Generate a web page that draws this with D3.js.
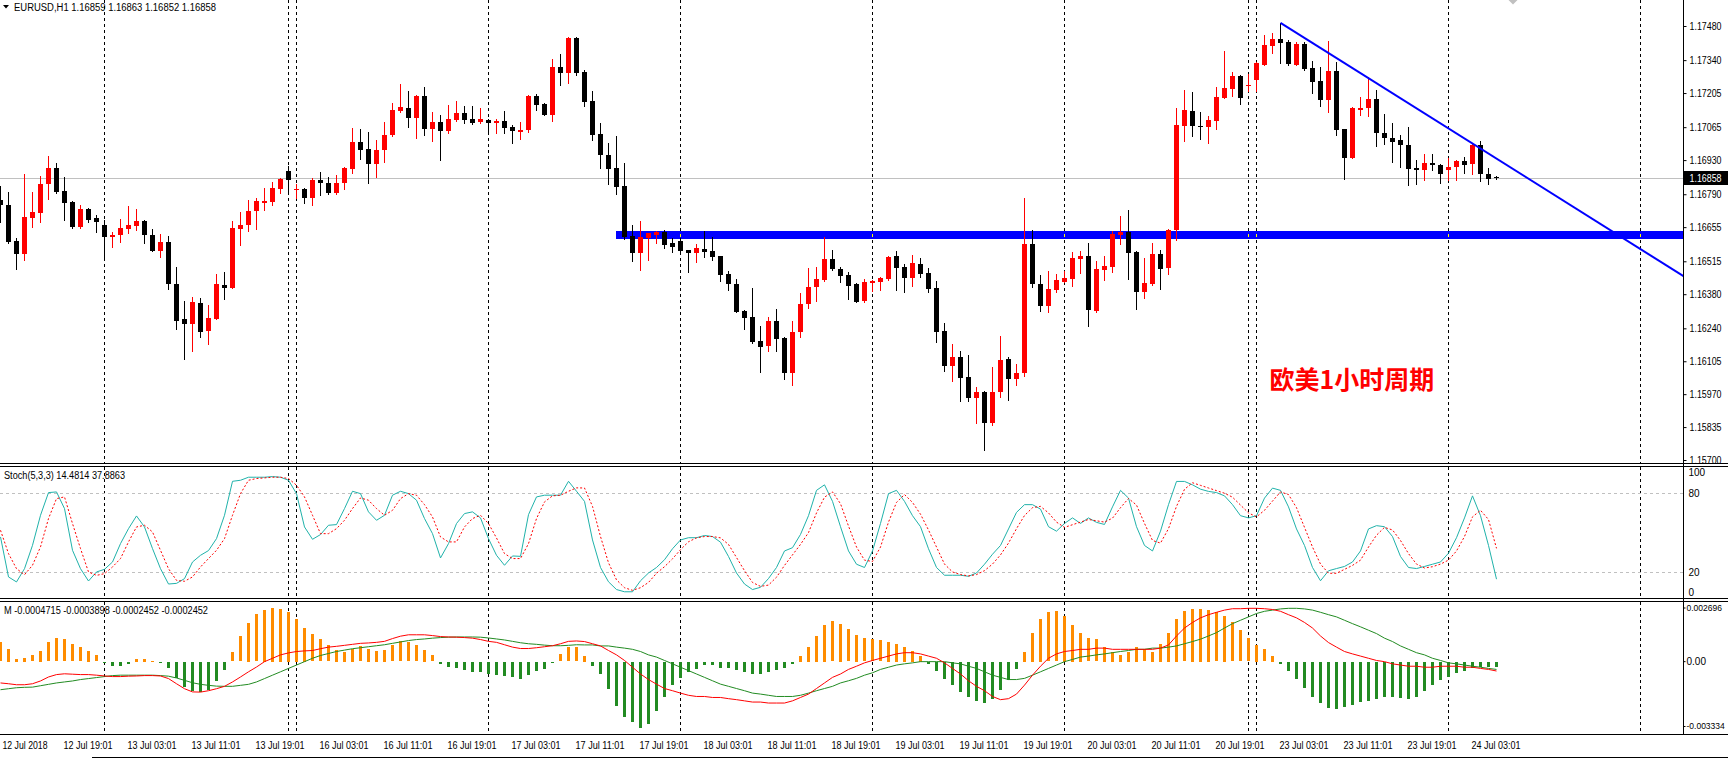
<!DOCTYPE html>
<html>
<head>
<meta charset="utf-8">
<script src="https://cdn.jsdelivr.net/npm/d3@7"></script>
<style>
  body { margin: 0; background: #fff; overflow: hidden; }
  svg { display: block; }
</style>
</head>
<body>
<script>
// EURUSD H1, 12 Jul 11:00 .. 24 Jul 06:00, one entry per bar
const opens = [1.16767,1.16746,1.16600,1.16545,1.16694,1.16715,1.16830,1.16898,1.16804,1.16759,1.16656,1.16730,1.16692,1.16664,1.16616,1.16621,1.16648,1.16660,1.16682,1.16623,1.16559,1.16595,1.16422,1.16277,1.16256,1.16344,1.16230,1.16280,1.16418,1.16407,1.16648,1.16664,1.16723,1.16756,1.16760,1.16813,1.16886,1.16809,1.16812,1.16776,1.16849,1.16837,1.16797,1.16838,1.16895,1.17005,1.16976,1.16912,1.16973,1.17031,1.17133,1.17144,1.17104,1.17193,1.17059,1.17087,1.17051,1.17095,1.17124,1.17099,1.17088,1.17095,1.17084,1.17091,1.17066,1.17047,1.17054,1.17193,1.17160,1.17117,1.17312,1.17289,1.17431,1.17292,1.17173,1.17037,1.16951,1.16898,1.16824,1.16619,1.16547,1.16612,1.16623,1.16637,1.16590,1.16599,1.16562,1.16547,1.16566,1.16558,1.16537,1.16463,1.16422,1.16312,1.16287,1.16189,1.16169,1.16271,1.16201,1.16055,1.16223,1.16338,1.16411,1.16440,1.16525,1.16484,1.16459,1.16422,1.16354,1.16424,1.16432,1.16444,1.16537,1.16492,1.16448,1.16504,1.16467,1.16406,1.16230,1.16087,1.16123,1.16041,1.15956,1.15979,1.15850,1.15977,1.16115,1.16034,1.16055,1.16586,1.16422,1.16333,1.16399,1.16432,1.16444,1.16526,1.16537,1.16313,1.16481,1.16492,1.16621,1.16636,1.16554,1.16391,1.16422,1.16545,1.16489,1.16644,1.17070,1.17132,1.17070,1.17066,1.17092,1.17186,1.17223,1.17275,1.17232,1.17260,1.17322,1.17400,1.17427,1.17415,1.17322,1.17408,1.17308,1.17255,1.17178,1.17296,1.17058,1.16940,1.17137,1.17145,1.17181,1.17042,1.17022,1.17013,1.16992,1.16897,1.16891,1.16919,1.16910,1.16891,1.16901,1.16927,1.16912,1.16992,1.16875,1.16859];
const highs = [1.16824,1.16800,1.16611,1.16871,1.16800,1.16865,1.16947,1.16919,1.16861,1.16762,1.16746,1.16733,1.16705,1.16685,1.16636,1.16689,1.16742,1.16730,1.16685,1.16648,1.16627,1.16619,1.16492,1.16353,1.16369,1.16365,1.16336,1.16463,1.16472,1.16681,1.16718,1.16767,1.16775,1.16816,1.16841,1.16857,1.16906,1.16832,1.16814,1.16857,1.16882,1.16861,1.16869,1.16900,1.17062,1.17058,1.17046,1.17013,1.17087,1.17165,1.17243,1.17214,1.17195,1.17230,1.17128,1.17115,1.17156,1.17173,1.17152,1.17152,1.17144,1.17099,1.17099,1.17132,1.17074,1.17087,1.17197,1.17202,1.17165,1.17345,1.17366,1.17433,1.17435,1.17300,1.17214,1.17083,1.17001,1.17029,1.16919,1.16664,1.16681,1.16633,1.16640,1.16644,1.16611,1.16611,1.16562,1.16586,1.16640,1.16615,1.16537,1.16476,1.16443,1.16315,1.16406,1.16250,1.16287,1.16320,1.16204,1.16271,1.16385,1.16488,1.16492,1.16615,1.16562,1.16493,1.16472,1.16425,1.16443,1.16438,1.16452,1.16535,1.16558,1.16504,1.16541,1.16529,1.16488,1.16435,1.16262,1.16176,1.16148,1.16131,1.16000,1.15984,1.16082,1.16209,1.16123,1.16094,1.16775,1.16644,1.16459,1.16476,1.16463,1.16476,1.16554,1.16558,1.16590,1.16517,1.16537,1.16640,1.16701,1.16726,1.16558,1.16530,1.16590,1.16562,1.16647,1.17143,1.17218,1.17210,1.17128,1.17111,1.17230,1.17378,1.17292,1.17278,1.17284,1.17331,1.17443,1.17452,1.17493,1.17423,1.17415,1.17415,1.17337,1.17312,1.17419,1.17333,1.17058,1.17148,1.17189,1.17271,1.17218,1.17119,1.17083,1.17033,1.17066,1.16931,1.16955,1.16955,1.16914,1.16940,1.16932,1.16943,1.16998,1.17010,1.16897,1.16863];
const lows = [1.16678,1.16592,1.16485,1.16522,1.16656,1.16678,1.16772,1.16796,1.16685,1.16653,1.16653,1.16678,1.16637,1.16526,1.16574,1.16595,1.16629,1.16644,1.16592,1.16557,1.16534,1.16403,1.16239,1.16116,1.16149,1.16204,1.16174,1.16277,1.16362,1.16404,1.16580,1.16641,1.16649,1.16726,1.16744,1.16797,1.16797,1.16775,1.16756,1.16744,1.16785,1.16789,1.16789,1.16813,1.16878,1.16935,1.16838,1.16862,1.16923,1.17028,1.17129,1.17066,1.17022,1.17031,1.17010,1.16932,1.17043,1.17091,1.17083,1.17080,1.17083,1.17044,1.17043,1.17043,1.17002,1.17018,1.17047,1.17136,1.17115,1.17092,1.17240,1.17248,1.17277,1.17152,1.17014,1.16899,1.16830,1.16793,1.16608,1.16518,1.16481,1.16522,1.16588,1.16571,1.16555,1.16555,1.16473,1.16514,1.16534,1.16522,1.16436,1.16399,1.16305,1.16239,1.16178,1.16059,1.16145,1.16145,1.16034,1.16009,1.16206,1.16325,1.16354,1.16436,1.16481,1.16432,1.16362,1.16346,1.16350,1.16395,1.16399,1.16440,1.16399,1.16387,1.16415,1.16452,1.16387,1.16186,1.16067,1.16026,1.15940,1.15940,1.15850,1.15739,1.15845,1.15960,1.15948,1.16009,1.16046,1.16411,1.16313,1.16309,1.16387,1.16428,1.16415,1.16469,1.16251,1.16309,1.16440,1.16473,1.16584,1.16444,1.16321,1.16366,1.16418,1.16403,1.16461,1.16603,1.17010,1.17027,1.17018,1.17002,1.17059,1.17183,1.17191,1.17162,1.17214,1.17215,1.17319,1.17371,1.17330,1.17318,1.17319,1.17301,1.17207,1.17150,1.17129,1.17031,1.16854,1.16938,1.17117,1.17109,1.16986,1.16998,1.16924,1.16903,1.16827,1.16834,1.16850,1.16891,1.16835,1.16850,1.16850,1.16879,1.16871,1.16846,1.16830,1.16852];
const closes = [1.16744,1.16595,1.16545,1.16697,1.16718,1.16832,1.16898,1.16798,1.16756,1.16656,1.16730,1.16685,1.16678,1.16616,1.16623,1.16652,1.16664,1.16681,1.16621,1.16559,1.16595,1.16422,1.16272,1.16256,1.16349,1.16227,1.16283,1.16422,1.16407,1.16652,1.16664,1.16722,1.16763,1.16763,1.16816,1.16853,1.16850,1.16812,1.16776,1.16849,1.16838,1.16797,1.16837,1.16898,1.17005,1.16973,1.16912,1.16972,1.17033,1.17136,1.17148,1.17104,1.17193,1.17059,1.17087,1.17050,1.17099,1.17124,1.17096,1.17084,1.17099,1.17084,1.17091,1.17063,1.17051,1.17054,1.17193,1.17158,1.17117,1.17312,1.17289,1.17431,1.17289,1.17170,1.17035,1.16949,1.16895,1.16821,1.16616,1.16547,1.16615,1.16631,1.16637,1.16580,1.16575,1.16559,1.16551,1.16570,1.16555,1.16534,1.16459,1.16420,1.16309,1.16284,1.16186,1.16165,1.16271,1.16198,1.16055,1.16225,1.16340,1.16410,1.16443,1.16525,1.16485,1.16456,1.16415,1.16350,1.16431,1.16435,1.16448,1.16533,1.16487,1.16448,1.16508,1.16461,1.16403,1.16227,1.16087,1.16123,1.16038,1.15956,1.15979,1.15850,1.15979,1.16111,1.16034,1.16057,1.16586,1.16420,1.16333,1.16402,1.16439,1.16447,1.16529,1.16537,1.16317,1.16484,1.16496,1.16627,1.16636,1.16547,1.16391,1.16426,1.16545,1.16485,1.16644,1.17074,1.17136,1.17068,1.17066,1.17095,1.17189,1.17226,1.17275,1.17186,1.17238,1.17329,1.17402,1.17427,1.17412,1.17326,1.17408,1.17305,1.17252,1.17178,1.17296,1.17055,1.16940,1.17145,1.17144,1.17181,1.17043,1.17022,1.17006,1.16990,1.16895,1.16891,1.16919,1.16908,1.16875,1.16902,1.16928,1.16908,1.16992,1.16871,1.16854,1.16858];

// Stochastic (5,3,3)
const stochMain = [46.7,16.2,12.4,22.5,40.3,63.2,80.5,81,68.3,36.5,22.5,13.1,20,22,27.6,41.6,53,62.7,54.3,37.8,22.5,10.8,11.3,14.9,27.6,32.7,36.3,45.4,63.2,89.1,89.9,92.2,92.2,92.2,92.7,92.2,89.9,79.7,54.3,44.9,48.5,55.6,56.1,68.3,81.5,79.7,65.8,59.4,63.2,78.5,81.5,79.7,74.7,60.7,49.2,30.7,41.6,56.9,64.5,65.8,61.2,45.4,32.7,25.1,32.2,31.9,63.7,77.2,78.5,78.5,78.5,89.1,81.5,73.8,44.4,23.4,12.5,6.6,4.9,4.9,13.3,19.2,23.4,29.3,37.7,44.4,46.1,46.1,47.8,47,42.7,31.8,19.2,10.8,6.6,8.3,15,23.4,36,38.5,48.6,62.9,82.2,86.4,73.8,54.5,36,25.9,23.4,36,57,79.7,82.2,73.8,62.9,54.5,37.7,23.4,17.5,17.5,17.5,16.7,19.2,25.9,33.5,40.2,52.8,65.4,71.3,71.3,67.9,54.5,51.1,57,61.2,57,61.2,57.8,56.2,69.6,82.2,76.3,54.5,40.2,36,51.1,71.3,89,89,86.4,83.1,81.4,80.5,78,71.3,62.9,61.2,62.9,76.3,83.9,82.2,69.6,52.8,40.2,23.4,13.3,20.9,22.6,24.2,27.6,36,52.8,55.3,54.5,47,31.8,23.4,22.6,24.2,25.9,27.6,34.3,46.1,61.2,78,62.9,40.2,14.5];
const stochSignal = [51.8,34,22.5,17.9,25.1,39.1,60.7,75.9,77.2,56.9,37.8,20,17.4,18.7,23.8,30.2,42.9,54.3,55.6,50.5,36.5,22.5,13.6,12.9,16.2,23.8,30.2,36.5,45.4,63.2,79.7,89.9,91.2,91.7,92.2,92.2,91.2,86.1,77.2,63.2,49.2,49.2,53,59.4,68.3,76.4,74.7,68.3,63.2,67,75.9,79.7,78.5,71.3,61.9,46.7,42.9,42.9,54.3,60.7,63.2,56.9,45.9,34,30.2,30.2,41.6,60.7,73.4,78,78.5,81.5,84.1,84,70,47,27,14,8,6,8,12,19,24,30,37,43,46,47,47,46,41,31,21,12,9,10,16,25,33,41,50,65,77,81,72,55,39,29,28,39,58,73,79,73,64,52,39,26,20,18,17,18,21,26,33,42,53,63,69,70,65,58,54,56,58,60,59,58,61,69,76,71,57,44,42,53,70,83,88,86,84,82,80,77,71,65,62,67,74,81,79,69,54,39,26,19,19,22,25,29,39,48,54,52,44,34,26,23,24,26,29,36,47,62,67,60,38];
const stochLevels = [80, 20];

// MACD panel, in units of 0.00001
const macdHist = [97,66,15,20,31,56,97,118,112,87,72,56,31,-2,-20,-20,-10,15,15,5,-5,-31,-82,-128,-148,-153,-143,-97,-41,46,128,194,237,261,269,266,250,215,169,138,112,82,61,51,66,77,66,56,61,82,102,97,82,61,31,-10,-26,-31,-41,-51,-51,-61,-66,-72,-77,-87,-66,-46,-36,-5,36,72,72,30,-20,-62,-135,-220,-276,-304,-333,-310,-248,-175,-118,-79,-51,-34,-17,-17,-28,-28,-39,-51,-62,-62,-51,-39,-28,-11,28,73,129,186,203,191,163,135,118,113,107,101,90,73,56,28,-11,-45,-84,-118,-152,-175,-197,-208,-186,-141,-90,-34,51,146,214,248,253,231,186,146,118,113,73,51,34,51,73,62,51,90,146,214,253,265,265,259,248,231,197,158,118,84,62,28,-11,-45,-84,-129,-175,-208,-231,-236,-225,-214,-203,-197,-186,-175,-175,-180,-186,-175,-146,-118,-90,-73,-56,-45,-28,-23,-25,-25];
const macdRed = [-107,-111,-116,-116,-111,-97,-77,-65,-61,-63,-65,-65,-68,-72,-75,-75,-73,-72,-70,-70,-72,-85,-111,-136,-152,-153,-146,-136,-124,-102,-77,-51,-27,0,17,34,44,51,54,56,65,73,77,82,87,92,94,97,102,116,128,135,135,135,131,126,124,123,121,118,111,102,97,85,73,66,66,70,75,80,90,102,104,101,90,79,56,34,6,-28,-62,-90,-113,-135,-146,-158,-169,-175,-175,-180,-180,-186,-191,-197,-203,-203,-208,-208,-208,-197,-180,-163,-135,-107,-79,-62,-39,-23,-6,6,17,28,39,45,45,39,28,17,-6,-34,-62,-96,-124,-146,-175,-191,-186,-163,-118,-68,-23,17,39,51,56,62,62,68,68,62,62,62,62,62,62,68,84,129,169,197,220,236,248,259,266,266,268,268,266,262,253,236,220,197,169,129,96,73,51,39,28,17,6,0,-11,-17,-23,-23,-28,-28,-23,-23,-23,-28,-28,-34,-39,-47];
const macdGreen = [-141,-136,-131,-129,-128,-121,-114,-107,-102,-97,-90,-85,-80,-75,-70,-68,-68,-68,-68,-68,-70,-73,-82,-94,-106,-114,-119,-123,-124,-124,-119,-114,-102,-85,-68,-51,-34,-17,0,17,31,41,51,58,65,70,75,80,85,92,99,106,111,114,118,121,123,124,124,124,123,119,114,109,102,95,90,87,83,80,80,82,85,84,84,79,79,73,68,62,51,34,23,6,-11,-28,-45,-62,-79,-96,-113,-124,-135,-146,-158,-163,-169,-175,-175,-175,-169,-158,-146,-135,-124,-107,-96,-84,-68,-56,-39,-28,-17,-11,-6,0,0,0,0,-6,-11,-23,-34,-51,-68,-79,-90,-90,-84,-68,-51,-34,-17,0,11,23,28,34,39,45,51,56,62,62,68,68,73,79,90,101,113,129,146,169,191,208,225,242,253,259,265,268,268,265,259,248,236,225,208,191,175,158,141,118,101,79,62,45,34,17,6,-6,-11,-17,-23,-28,-34,-39];
const macdUnit = 0.00001;

// axes
const priceTicks = [1.17480,1.17340,1.17205,1.17065,1.16930,1.16790,1.16655,1.16515,1.16380,1.16240,1.16105,1.15970,1.15835,1.15700];
const stochTicks = [100, 80, 20, 0];
const macdTicks = [0.002696, 0, -0.003334];
const macdTickText = ["0.002696", "0.00", "-0.003334"];
const timeBars = [0,8,16,24,32,40,48,56,64,72,80,88,96,104,112,120,128,136,144,152,160,168,176,184];
const timeTexts = ["12 Jul 2018","12 Jul 19:01","13 Jul 03:01","13 Jul 11:01","13 Jul 19:01","16 Jul 03:01","16 Jul 11:01","16 Jul 19:01","17 Jul 03:01","17 Jul 11:01","17 Jul 19:01","18 Jul 03:01","18 Jul 11:01","18 Jul 19:01","19 Jul 03:01","19 Jul 11:01","19 Jul 19:01","20 Jul 03:01","20 Jul 11:01","20 Jul 19:01","23 Jul 03:01","23 Jul 11:01","23 Jul 19:01","24 Jul 03:01"];
const separatorBars = [13,36,37,61,85,109,133,156,157,181,205];

// drawn objects
const supportPrice = 1.16623, supportFromBar = 77;
const trendBars = [160, 184], trendPrices = [1.17493, 1.16998];
const note = "欧美1小时周期";

const W = 1728, H = 759;
const axisX = 1683.5;
const panels = { main: [0, 463], stoch: [467, 598], macd: [602, 734] };
const font = "'Liberation Sans', Arial, sans-serif";

const svg = d3.select("body").append("svg")
    .attr("width", W).attr("height", H)
    .style("font-family", font);

const n = opens.length;
const x = d3.scaleLinear().domain([0, n - 1]).range([0.5, 0.5 + 8 * (n - 1)]);
const yP = d3.scaleLinear().domain([1.15700, 1.17480]).range([460, 26]);
const yS = d3.scaleLinear().domain([0, 100]).range([598.2, 467]);
const yM = d3.scaleLinear().domain([-0.003334, 0.002696]).range([728, 608]);

const defs = svg.append("defs");
Object.entries(panels).forEach(([k, [a, b]]) => {
  defs.append("clipPath").attr("id", "clip-" + k)
    .append("rect").attr("x", 0).attr("y", a).attr("width", axisX).attr("height", b - a);
});
const bandTop = Math.round(yP(supportPrice)) - 4;
const bandX = x(supportFromBar) - 0.5;
defs.append("clipPath").attr("id", "clip-band")
  .append("rect").attr("x", bandX).attr("y", bandTop).attr("width", axisX - bandX).attr("height", 8);

const gMain = svg.append("g").attr("clip-path", "url(#clip-main)");
const gSt = svg.append("g").attr("clip-path", "url(#clip-stoch)");
const gMd = svg.append("g").attr("clip-path", "url(#clip-macd)");

// support band
gMain.append("line")
    .attr("x1", bandX).attr("x2", axisX)
    .attr("y1", bandTop + 4).attr("y2", bandTop + 4)
    .attr("stroke", "#0000ff").attr("stroke-width", 8);

// period separators
function separators(g, [a, b], color) {
  g.selectAll(null).data(separatorBars).enter().append("line")
      .attr("x1", d => x(d)).attr("x2", d => x(d))
      .attr("y1", a).attr("y2", b)
      .attr("stroke", color).attr("stroke-dasharray", "3,3");
}
separators(gMain, panels.main, "#000");
separators(gMain.append("g").attr("clip-path", "url(#clip-band)"), panels.main, "#ffff00");
separators(gSt, panels.stoch, "#000");
separators(gMd, panels.macd, "#000");

// bid line
const bidY = Math.round(yP(closes[n - 1])) + 0.5;
gMain.append("line").attr("x1", 0).attr("x2", axisX).attr("y1", bidY).attr("y2", bidY)
    .attr("stroke", "#c0c0c0");

// candles
const candles = gMain.append("g").selectAll("g").data(d3.range(n)).enter().append("g");
const col = i => closes[i] > opens[i] ? "#ff0000" : "#000000";
candles.append("line")
    .attr("x1", i => x(i)).attr("x2", i => x(i))
    .attr("y1", i => Math.round(yP(highs[i]))).attr("y2", i => Math.round(yP(lows[i])) + 1)
    .attr("stroke", col);
candles.append("rect")
    .attr("x", i => x(i) - 2.5).attr("width", 5)
    .attr("y", i => Math.round(yP(Math.max(opens[i], closes[i]))))
    .attr("height", i => Math.max(1, Math.round(yP(Math.min(opens[i], closes[i]))) - Math.round(yP(Math.max(opens[i], closes[i])))))
    .attr("fill", col).attr("shape-rendering", "crispEdges");

// trend line (ray to the right)
const slope = (trendPrices[1] - trendPrices[0]) / (trendBars[1] - trendBars[0]);
const endBar = x.invert(axisX);
gMain.append("line")
    .attr("x1", x(trendBars[0])).attr("y1", yP(trendPrices[0]))
    .attr("x2", x(endBar)).attr("y2", yP(trendPrices[0] + slope * (endBar - trendBars[0])))
    .attr("stroke", "#0000ff").attr("stroke-width", 2);

// note text
svg.append("text")
    .attr("x", x(158) + 5).attr("y", yP(1.15985) - 2)
    .attr("font-family", "'Noto Sans CJK SC', sans-serif").attr("font-weight", "bold")
    .attr("font-size", 25).attr("fill", "#ff0000")
    .text(note);

// stochastic
gSt.selectAll(null).data(stochLevels).enter().append("line")
    .attr("x1", 0).attr("x2", axisX)
    .attr("y1", d => Math.round(yS(d)) + 0.5).attr("y2", d => Math.round(yS(d)) + 0.5)
    .attr("stroke", "#c0c0c0").attr("stroke-dasharray", "3,3");
gSt.append("path").datum(stochMain)
    .attr("d", d3.line().x((d, i) => x(i)).y(d => yS(d)))
    .attr("fill", "none").attr("stroke", "#20b2aa");
gSt.append("path").datum(stochSignal)
    .attr("d", d3.line().x((d, i) => x(i)).y(d => yS(d)))
    .attr("fill", "none").attr("stroke", "#ff0000").attr("stroke-dasharray", "2,2");

// MACD
gMd.selectAll(null).data(macdHist).enter().append("rect")
    .attr("x", (d, i) => x(i) - 1.5).attr("width", 3)
    .attr("y", d => Math.round(Math.min(yM(d * macdUnit), yM(0))))
    .attr("height", d => Math.max(1, Math.round(Math.abs(yM(d * macdUnit) - yM(0)))))
    .attr("fill", d => d >= 0 ? "#ff8c00" : "#228b22")
    .attr("shape-rendering", "crispEdges");
gMd.append("path").datum(macdGreen)
    .attr("d", d3.line().x((d, i) => x(i)).y(d => yM(d * macdUnit)))
    .attr("fill", "none").attr("stroke", "#228b22");
gMd.append("path").datum(macdRed)
    .attr("d", d3.line().x((d, i) => x(i)).y(d => yM(d * macdUnit)))
    .attr("fill", "none").attr("stroke", "#ff0000");

// frame lines
const hLines = [463.5, 466.5, 598.5, 601.5, 734.5];
svg.selectAll(null).data(hLines).enter().append("line")
    .attr("x1", 0).attr("x2", W).attr("y1", d => d).attr("y2", d => d)
    .attr("stroke", "#000");
svg.append("line").attr("x1", 92).attr("x2", W).attr("y1", 757.5).attr("y2", 757.5).attr("stroke", "#000");
svg.append("line").attr("x1", axisX).attr("x2", axisX).attr("y1", 0).attr("y2", 734.5).attr("stroke", "#000");

// price axis
const pAxis = svg.append("g").attr("transform", `translate(${axisX},0)`)
    .call(d3.axisRight(yP).tickValues(priceTicks).tickFormat(d3.format(".5f")).tickSize(3).tickPadding(3).tickSizeOuter(0));
pAxis.select(".domain").remove();
pAxis.selectAll("text").attr("font-family", font).attr("font-size", 10).attr("fill", "#000")
    .attr("textLength", 32).attr("lengthAdjust", "spacingAndGlyphs");

// bid label
svg.append("rect").attr("x", axisX + 0.5).attr("y", bidY - 7.5).attr("width", 44).attr("height", 14).attr("fill", "#000");
svg.append("text").attr("x", axisX + 6).attr("y", bidY + 3.5).attr("font-size", 10).attr("fill", "#fff")
    .attr("textLength", 32).attr("lengthAdjust", "spacingAndGlyphs")
    .text(d3.format(".5f")(closes[n - 1]));

// stoch axis
const sAxis = svg.append("g").attr("transform", `translate(${axisX},0)`)
    .call(d3.axisRight(yS).tickValues(stochTicks).tickSize(0).tickPadding(5));
sAxis.select(".domain").remove();
sAxis.selectAll(".tick").attr("transform", d => `translate(0,${yS(d) + (d === 100 ? 5.7 : d === 0 ? -5.5 : 0.4)})`);
sAxis.selectAll("text").attr("font-family", font).attr("font-size", 10).attr("fill", "#000");

// macd axis
const mAxis = svg.append("g").attr("transform", `translate(${axisX},0)`)
    .call(d3.axisRight(yM).tickValues(macdTicks).tickFormat((d, i) => macdTickText[i]).tickSize(2).tickPadding(1));
mAxis.select(".domain").remove();
mAxis.selectAll(".tick").attr("transform", (d, i) => `translate(0,${yM(d) + (i === 2 ? -1.5 : 0)})`);
mAxis.selectAll("text").attr("font-family", font).attr("fill", "#000")
    .attr("font-size", (d, i) => i === 1 ? 10 : 8.5);

// time axis
const tAxis = svg.append("g").attr("transform", "translate(0,736)")
    .call(d3.axisBottom(x).tickValues(timeBars).tickFormat((d, i) => timeTexts[i]).tickSize(0).tickPadding(6));
tAxis.select(".domain").remove();
tAxis.selectAll("text").attr("font-family", font).attr("font-size", 10).attr("fill", "#000")
    .attr("text-anchor", "start").attr("x", (d, i) => i === 0 ? 1.5 : -1.5)
    .attr("textLength", (d, i) => i === 0 ? 45 : 49).attr("lengthAdjust", "spacingAndGlyphs");

// headers
svg.append("path").attr("d", "M3,5 L9,5 L6,8.5 Z").attr("fill", "#000");
svg.append("text").attr("x", 14).attr("y", 10.5).attr("font-size", 10)
    .attr("textLength", 202).attr("lengthAdjust", "spacingAndGlyphs")
    .text("EURUSD,H1  1.16859 1.16863 1.16852 1.16858");
svg.append("text").attr("x", 4).attr("y", 478.5).attr("font-size", 10)
    .attr("textLength", 121).attr("lengthAdjust", "spacingAndGlyphs")
    .text("Stoch(5,3,3) 14.4814 37.8863");
svg.append("text").attr("x", 4).attr("y", 614).attr("font-size", 10)
    .attr("textLength", 204).attr("lengthAdjust", "spacingAndGlyphs")
    .text("M -0.0004715 -0.0003898 -0.0002452 -0.0002452");

// chart shift marker
svg.append("path").attr("d", `M${x(n - 1) + 12},0 L${x(n - 1) + 21},0 L${x(n - 1) + 16.5},4.5 Z`).attr("fill", "#c0c0c0");
</script>
</body>
</html>
